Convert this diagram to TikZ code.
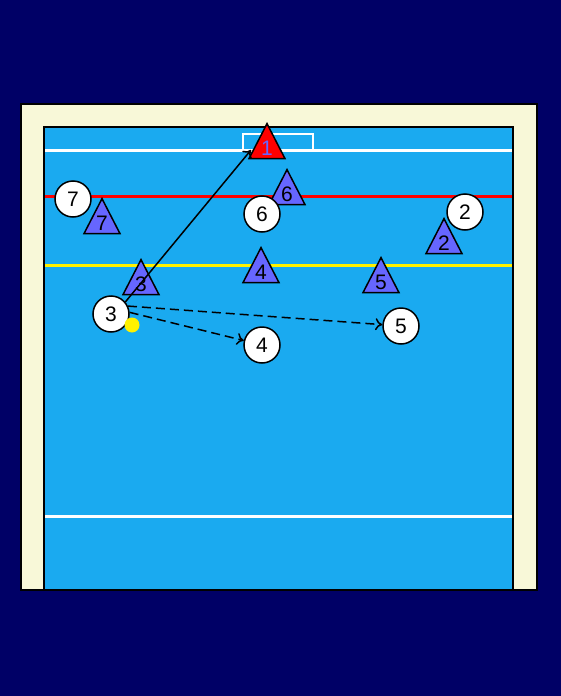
\documentclass[tikz,border=0pt]{standalone}
\usepackage{fontspec}
\setmainfont{Liberation Sans}
\usetikzlibrary{arrows.meta,shapes.geometric}
\definecolor{navy}{HTML}{000066}
\definecolor{deck}{HTML}{F8F8D8}
\definecolor{water}{HTML}{1AAAF0}
\definecolor{defblue}{HTML}{6666FF}
\definecolor{goalred}{HTML}{FF0000}
\tikzset{
  attacker/.style={
    circle, draw=black, fill=white, line width=1.5pt,
    minimum size=36pt, inner sep=0pt,
    font=\fontsize{21}{25}\selectfont
  },
  defender/.style={
    isosceles triangle, isosceles triangle apex angle=54,
    isosceles triangle stretches, shape border rotate=90,
    draw=black, fill=#1, line width=1.5pt,
    minimum height=35pt, minimum width=36pt, inner sep=0pt,
    anchor=apex, font=\fontsize{21}{25}\selectfont
  },
  defender/.default=defblue,
  poolline/.style={line width=3pt, draw=#1},
  poolline/.default=white,
  pass/.style={
    -{To[length=7pt,width=12pt]}, line width=1.5pt,
    dash pattern=on 9pt off 5pt
  },
  shot/.style={
    -{To[length=7pt,width=12pt]}, line width=1.5pt
  },
}
\begin{document}
\begin{tikzpicture}[x=1pt,y=-1pt]

% Background
\useasboundingbox (0,0) rectangle (560,696);
\fill[navy] (-2,-2) rectangle (562,698);

% Deck and water
\draw[fill=deck, line width=1.5pt] (21,104) rectangle (537,590);
\draw[fill=water, line width=1.5pt] (44,127) rectangle (513,590);

% Lines
\draw[poolline] (45,150) -- (512,150);
\draw[poolline] (45,516) -- (512,516);
\draw[poolline=goalred] (45,196) -- (512,196);
\draw[poolline=yellow] (45,265) -- (512,265);

% Goal
\draw[white, line width=2.5pt] (243,150) -- (243,134) -- (313,134) -- (313,150);

% Defenders
\node[defender=goalred, text=defblue] (d1) at (267,122) {1};
\node[defender] (d2) at (444,217) {2};
\node[defender] (d3) at (141,258) {3};
\node[defender] (d4) at (261,246) {4};
\node[defender] (d5) at (381,256) {5};
\node[defender] (d6) at (287,168) {6};
\node[defender] (d7) at (102,197) {7};

% Attackers
\node[attacker] (a2) at (465,212) {2};
\node[attacker] (a3) at (111,314) {3};
\node[attacker] (a4) at (262,345) {4};
\node[attacker] (a5) at (401,326) {5};
\node[attacker] (a6) at (262,214) {6};
\node[attacker] (a7) at (73,199) {7};

% Ball
\node[circle, fill=yellow, minimum size=15pt, inner sep=0pt] (ball) at (132,325) {};

% Shot and passes
\coordinate (aim) at (251,150);
\draw[shot] (a3.40) -- (aim);
\draw[pass] (a3.25) -- (a5);
\draw[pass] (a3.5) -- (a4);

\end{tikzpicture}
\end{document}
